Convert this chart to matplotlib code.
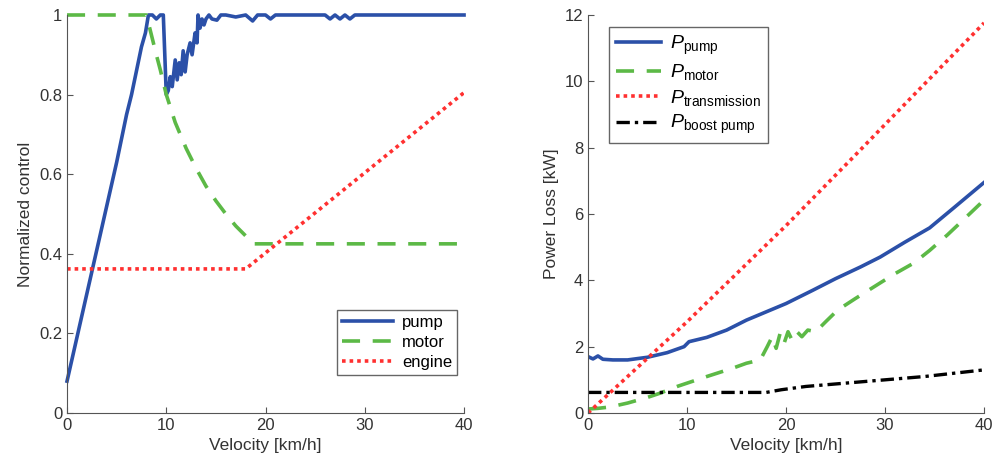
import numpy as np
import matplotlib.pyplot as plt

plt.rcParams['font.family'] = ['Liberation Sans', 'DejaVu Sans']
plt.rcParams['mathtext.fontset'] = 'custom'
plt.rcParams['mathtext.rm'] = 'Liberation Sans'
plt.rcParams['mathtext.it'] = 'Liberation Sans:italic'

# --- Left panel: normalized control ---
pump_x = [0, 0.5, 1, 1.5, 2, 2.5, 3, 3.5, 4, 4.5, 5, 5.5, 6, 6.5, 7, 7.5, 7.9, 8.2,
          8.6, 9.0, 9.4, 9.7, 9.85, 10.0, 10.2, 10.4, 10.6, 10.9, 11.1, 11.3, 11.5,
          11.7, 11.9, 12.1, 12.4, 12.6, 12.9, 13.1, 13.2, 13.4, 13.6, 13.8, 14.0,
          14.3, 14.6, 15.1, 15.5, 16.0, 17.0, 18.0, 18.7, 19.2, 20.0, 20.5, 21.0,
          26.0, 26.5, 27.0, 27.5, 28.0, 28.5, 29.0, 40]
pump_u = [0.08, 0.135, 0.19, 0.245, 0.30, 0.355, 0.41, 0.465, 0.52, 0.575, 0.63,
          0.69, 0.75, 0.80, 0.86, 0.92, 0.955, 1.0, 1.0, 0.99, 1.0, 1.0, 0.9, 0.80,
          0.81, 0.845, 0.82, 0.887, 0.837, 0.88, 0.85, 0.91, 0.857, 0.9, 0.93, 0.9,
          0.955, 0.93, 1.0, 0.967, 0.99, 0.975, 0.99, 1.0, 0.99, 0.987, 1.0, 1.0,
          0.995, 1.0, 0.985, 1.0, 1.0, 0.99, 1.0, 1.0, 0.99, 1.0, 0.99, 1.0, 0.99,
          1.0, 1.0]
motor_x = [0, 8.0, 8.5, 9.0, 9.4, 10.0, 10.9, 12.0, 13.0, 14.0, 15.0, 16.0, 17.0,
           18.0, 18.8, 40]
motor_u = [1.0, 1.0, 0.95, 0.9, 0.862, 0.80, 0.73, 0.665, 0.615, 0.57, 0.533,
           0.50, 0.47, 0.445, 0.425, 0.425]
engine_x = [0, 18, 40]
engine_u = [0.362, 0.362, 0.805]

# --- Right panel: power loss [kW] ---
p_pump_x = [0, 0.5, 1.0, 1.5, 2.5, 4, 6, 8, 9.7, 10.2, 12, 14, 16, 18, 20, 22.7,
            25, 27.5, 29.5, 32, 34.5, 37, 40]
p_pump = [1.7, 1.63, 1.72, 1.62, 1.6, 1.6, 1.68, 1.82, 2.0, 2.15, 2.28, 2.5, 2.8,
          3.05, 3.3, 3.7, 4.05, 4.4, 4.7, 5.15, 5.58, 6.2, 6.95]
p_motor_x = [0, 1, 2.2, 4, 6, 7.3, 9, 10, 12, 14.6, 16, 17.4, 18.1, 18.6, 19.0,
             19.4, 19.8, 20.2, 20.6, 21.1, 21.6, 22.2, 23, 24, 25.2, 27, 29.5,
             31, 32.9, 34.5, 36.3, 38, 40]
p_motor = [0.12, 0.14, 0.18, 0.3, 0.47, 0.6, 0.8, 0.9, 1.1, 1.35, 1.5, 1.6, 2.0,
           2.3, 1.95, 2.4, 2.1, 2.45, 2.2, 2.45, 2.3, 2.5, 2.45, 2.75, 3.1, 3.45,
           3.92, 4.2, 4.52, 4.9, 5.37, 5.85, 6.42]
p_trans_x = [0, 10, 20, 27.5, 30, 40]
p_trans = [0.0, 2.75, 5.65, 7.93, 8.7, 11.76]
p_boost_x = [0, 18, 19.5, 22, 26, 30, 34, 37, 40]
p_boost = [0.62, 0.62, 0.7, 0.8, 0.9, 1.0, 1.1, 1.2, 1.3]

BLUE = '#2b50a8'
GREEN = '#5cb946'
RED = '#ff3030'
TXT = '#333333'
DOT = (0, (1.0, 1.1))
DASH = (0, (5, 3.5))

fig = plt.figure(figsize=(9.96, 4.7), dpi=100)
ax1 = fig.add_axes([0.0673, 0.1213, 0.3986, 0.8468])
ax2 = fig.add_axes([0.5904, 0.1213, 0.3976, 0.8468])

ax1.plot(pump_x, pump_u, color=BLUE, lw=2.6, label='pump', clip_on=False)
ax1.plot(motor_x, motor_u, color=GREEN, lw=2.6, ls=DASH, label='motor', clip_on=False)
ax1.plot(engine_x, engine_u, color=RED, lw=2.6, ls=DOT, label='engine')
ax1.set_ylim(0, 1)
ax1.set_yticks([0, 0.2, 0.4, 0.6, 0.8, 1])
ax1.set_yticklabels(['0', '0.2', '0.4', '0.6', '0.8', '1'])
ax1.set_ylabel('Normalized control', fontsize=12.5, color=TXT)
ax1.legend(loc='lower right', bbox_to_anchor=(0.982, 0.096), fontsize=12,
           handlelength=3.1, fancybox=False, edgecolor='#404040', borderaxespad=0,
           borderpad=0.3, labelspacing=0.3, handletextpad=0.5)

ax2.plot(p_pump_x, p_pump, color=BLUE, lw=2.6, label=r'$P_{\mathrm{pump}}$')
ax2.plot(p_motor_x, p_motor, color=GREEN, lw=2.6, ls=DASH,
         label=r'$P_{\mathrm{motor}}$')
ax2.plot(p_trans_x, p_trans, color=RED, lw=2.6, ls=DOT,
         label=r'$P_{\mathrm{transmission}}$')
ax2.plot(p_boost_x, p_boost, color='black', lw=2.4, ls=(0, (4, 1.5, 1, 1.5)),
         label=r'$P_{\mathrm{boost\ pump}}$')
ax2.set_ylim(0, 12)
ax2.set_yticks([0, 2, 4, 6, 8, 10, 12])
ax2.set_ylabel('Power Loss [kW]', fontsize=12.5, color=TXT)
ax2.legend(loc='upper left', bbox_to_anchor=(0.053, 0.97), fontsize=14,
           handlelength=2.3, fancybox=False, edgecolor='#404040', borderaxespad=0,
           borderpad=0.35, labelspacing=0.28, handletextpad=0.5)

for ax in (ax1, ax2):
    ax.set_xlim(0, 40)
    ax.set_xticks([0, 10, 20, 30, 40])
    ax.set_xlabel('Velocity [km/h]', fontsize=12.5, color=TXT)
    ax.spines['top'].set_visible(False)
    ax.spines['right'].set_visible(False)
    for s in ('left', 'bottom'):
        ax.spines[s].set_color('#555555')
    ax.tick_params(direction='in', length=4, labelsize=12, colors='#555555',
                   labelcolor=TXT)
    ax.get_legend().get_frame().set_linewidth(1.0)

fig.savefig('out.png', dpi=100)
